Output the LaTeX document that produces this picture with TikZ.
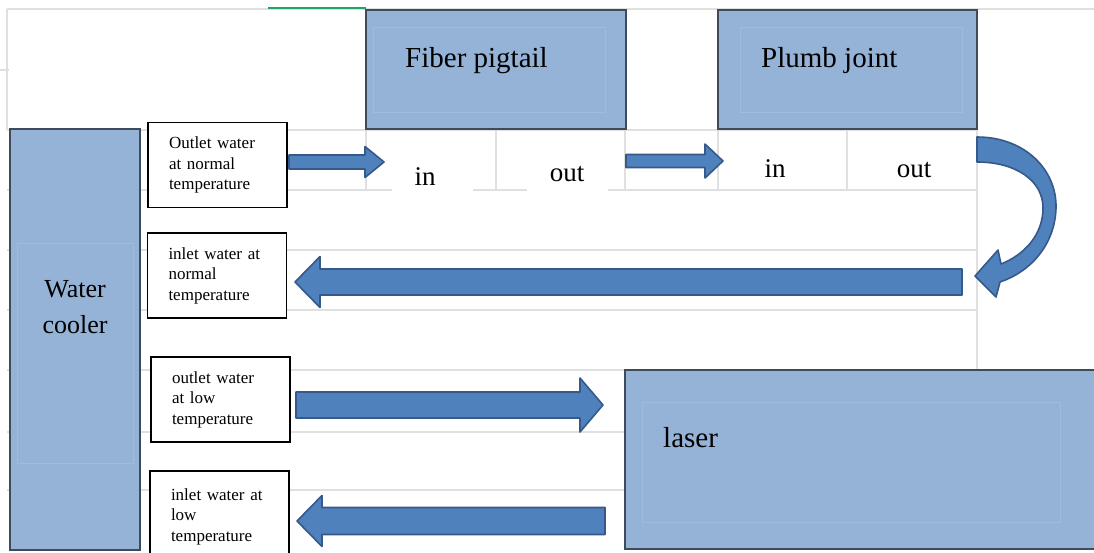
\documentclass[tikz,border=0pt]{standalone}
\usepackage{fontspec}
\setmainfont{Liberation Serif}
\usetikzlibrary{calc}

\definecolor{boxblue}{HTML}{95B3D7}
\definecolor{boxedge}{HTML}{3F4B5B}
\definecolor{framelight}{HTML}{9FBCE0}
\definecolor{arrowfill}{HTML}{4F81BD}
\definecolor{arrowedge}{HTML}{36598A}
\definecolor{gridgrey}{HTML}{E0E0E0}
\definecolor{selgreen}{HTML}{21A366}

% horizontal block arrow: tail at x of #1, tip at #2;
% #3 = half shaft thickness, #4 = half head width, #5 = head length (all pt)
\newcommand\blockarrow[5]{%
  \path[flowarrow] let \p1=(#1), \p2=(#2), \n1={(\x2-\x1)/abs(\x2-\x1)} in
    (\x1,{\y2+#3pt}) -- ({\x2-\n1*#5pt},{\y2+#3pt}) -- ({\x2-\n1*#5pt},{\y2+#4pt})
    -- (\x2,\y2) -- ({\x2-\n1*#5pt},{\y2-#4pt}) -- ({\x2-\n1*#5pt},{\y2-#3pt})
    -- (\x1,{\y2-#3pt}) -- cycle;}

\begin{document}
\begin{tikzpicture}[x=1pt,y=-1pt,
  grid/.style={draw=gridgrey, line width=1.6pt},
  unitbox/.style={draw=boxedge, fill=boxblue, line width=2pt, inner sep=0pt},
  textframe/.style={draw=framelight, line width=0.5pt},
  flowarrow/.style={fill=arrowfill, draw=arrowedge, line width=1.6pt, line join=round},
  lbl/.style={draw=black, fill=white, line width=1.8pt, text width=97pt,
    inner xsep=21pt, inner ysep=0pt, minimum height=85pt, align=left,
    font=\fontsize{17}{20.5}\selectfont},
  bigtext/.style={inner sep=0pt, font=\fontsize{29}{33}\selectfont},
  celltext/.style={inner sep=0pt, anchor=base, font=\fontsize{27}{30}\selectfont}]

\useasboundingbox (0,0) rectangle (1094,552);
\clip (0,0) rectangle (1094,552);
\fill[white] (0,0) rectangle (1094,552);

% sheet grid
\draw[grid] (7,9) -- (1094,9);
\foreach \yy in {130,190,250,310,370} \draw[grid] (7,\yy) -- (977,\yy);
\foreach \yy in {432,490} \draw[grid] (7,\yy) -- (625,\yy);
\draw[grid] (0,70) -- (9,70);
\draw[grid] (7,9) -- (7,130);
\foreach \xx in {366,496,625,718,847} \draw[grid] (\xx,130) -- (\xx,190);
\draw[grid] (977,130) -- (977,370);
\draw[selgreen, line width=2.4pt] (268,8) -- (366,8);

% blank cells behind the fibre in/out labels
\fill[white] (392,133) rectangle (473,194);
\fill[white] (527,133) rectangle (608,194);

% units
\node[unitbox, minimum width=130pt, minimum height=421pt] (cooler) at (75,339.5) {};
\node[unitbox, minimum width=260pt, minimum height=119pt] (fiber) at (496,69.5) {};
\node[unitbox, minimum width=259pt, minimum height=119pt] (plumb) at (847.5,69.5) {};
\node[unitbox, minimum width=475pt, minimum height=179pt] (laser) at (862.5,459.5) {};

% text frames inside the units
\draw[textframe] (17,243) rectangle (133,463);
\draw[textframe] (373,27) rectangle (605,112);
\draw[textframe] (740,27) rectangle (962,112);
\draw[textframe] (642,402) rectangle (1060,522);

% unit names
\node[bigtext, anchor=base west] (fiberName) at (405,67) {Fiber pigtail};
\node[bigtext, anchor=base west] (plumbName) at (761,67) {Plumb joint};
\node[bigtext, anchor=base west] (laserName) at (663,447) {laser};
\node[inner sep=0pt, anchor=base, font=\fontsize{26}{30}\selectfont] (coolerName1) at (75,297) {Water};
\node[inner sep=0pt, anchor=base, font=\fontsize{26}{30}\selectfont] (coolerName2) at (75,333) {cooler};

% ports
\node[celltext] (fibIn) at (425,185) {in};
\node[celltext] (fibOut) at (567,181) {out};
\node[celltext] (pjIn) at (775,177) {in};
\node[celltext] (pjOut) at (914,177) {out};

% flow labels
\node[lbl] (outNormal) at (217.5,165) {Outlet water\\at normal\\temperature};
\node[lbl] (inNormal) at (217,275.5) {inlet water at\\normal\\temperature};
\node[lbl] (outLow) at (220.5,399.5) {outlet water\\at low\\temperature};
\node[lbl, minimum height=91pt] (inLow) at (219.5,516.5) {inlet water at\\low\\temperature};

% arrow end points
\coordinate (a1s) at (289,162);
\coordinate (a1e) at (384,162);
\coordinate (a2s) at (626,161);
\coordinate (a2e) at (723,161);
\coordinate (a3s) at (962,282);
\coordinate (a3e) at (295,282);
\coordinate (a4s) at (296,405);
\coordinate (a4e) at (603,405);
\coordinate (a5s) at (605,521);
\coordinate (a5e) at (297,521);

% water flow
\blockarrow{a1s}{a1e}{7}{15.5}{19}
\blockarrow{a2s}{a2e}{6.5}{17}{18}
\blockarrow{a3s}{a3e}{13}{25.5}{25}
\blockarrow{a4s}{a4e}{13}{27}{23}
\blockarrow{a5s}{a5e}{13.5}{25.5}{25}

% return bend from the plumb joint outlet
\path[flowarrow] (977,137) .. controls (1025,137) and (1057,170) .. (1056,208)
  .. controls (1055,245) and (1030,272) .. (1000,282)
  -- (996,297) -- (975,276) -- (998,250) -- (1001,264)
  .. controls (1024,255) and (1043,235) .. (1043,208)
  .. controls (1043,180) and (1015,162) .. (977,162) -- cycle;
\end{tikzpicture}
\end{document}
